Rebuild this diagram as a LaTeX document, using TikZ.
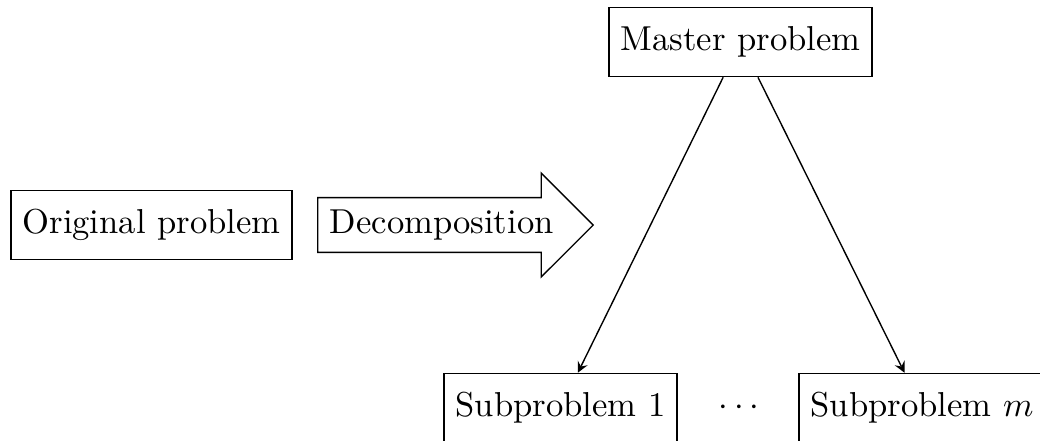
\documentclass[tikz,border=0pt]{standalone}
\usetikzlibrary{shapes.arrows}
\begin{document}
\begin{tikzpicture}[x=0.289pt,y=-0.289pt,
  box/.style={draw, rectangle, minimum height=20pt, inner xsep=3.333pt},
  bigarrow/.style={draw, single arrow},
  link/.style={-stealth}]
\useasboundingbox (0,0) rectangle (1040,440);
\node[box] (orig) at (151.5,225) {Original problem};
\node[bigarrow, anchor=west] (dec) at (317,225) {Decomposition};
\node[box] (master) at (740.5,42) {Master problem};
\node[box] (sub1) at (560.5,408) {Subproblem 1};
\node (dots) at (739,408) {$\cdots$};
\node[box] (subm) at (922,408) {Subproblem $m$};
\draw[link] (master) -- (sub1);
\draw[link] (master) -- (subm);
\end{tikzpicture}
\end{document}
